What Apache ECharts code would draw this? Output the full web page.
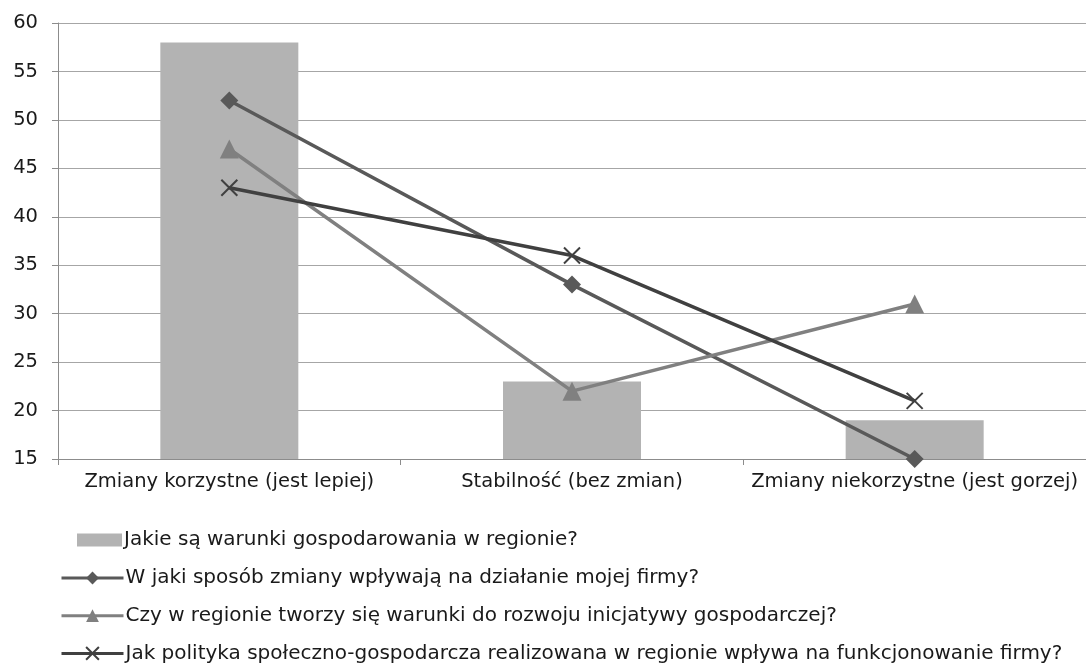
<!DOCTYPE html>
<html>
<head>
<meta charset="utf-8">
<script src="https://cdn.jsdelivr.net/npm/echarts@6/dist/echarts.min.js"></script>
<style>html,body{margin:0;padding:0;background:#fff}#c{width:1086px;height:672px}</style>
</head>
<body>
<div id="c"></div>
<script>
const categories = ['Zmiany korzystne (jest lepiej)', 'Stabilność (bez zmian)', 'Zmiany niekorzystne (jest gorzej)'];
const seriesNames = [
  'Jakie są warunki gospodarowania w regionie?',
  'W jaki sposób zmiany wpływają na działanie mojej firmy?',
  'Czy w regionie tworzy się warunki do rozwoju inicjatywy gospodarczej?',
  'Jak polityka społeczno-gospodarcza realizowana w regionie wpływa na funkcjonowanie firmy?'
];
const barValues = [58, 23, 19];
const diamondValues = [52, 33, 15];
const triangleValues = [47, 22, 31];
const crossValues = [43, 36, 21];

const font = '"DejaVu Sans", sans-serif';
const fsAxis = 19.5;
const fsLegend = 20;
const chart = echarts.init(document.getElementById('c'), null, {renderer: 'canvas'});
const crossPath = 'path://M0 0L10 10M10 0L0 10';
chart.setOption({
  animation: false,
  backgroundColor: '#ffffff',
  grid: {left: 58, right: -7, top: 23, bottom: 213, containLabel: false},
  xAxis: {
    type: 'category',
    data: categories,
    axisLine: {lineStyle: {color: '#8c8c8c', width: 1}},
    axisTick: {show: true, length: 6, lineStyle: {color: '#8c8c8c'}},
    axisLabel: {color: '#1a1a1a', fontSize: fsAxis, fontFamily: font, margin: 13, interval: 0}
  },
  yAxis: {
    type: 'value',
    min: 15, max: 60, interval: 5,
    axisLine: {show: true, lineStyle: {color: '#8c8c8c', width: 1}},
    axisTick: {show: true, length: 6, lineStyle: {color: '#8c8c8c'}},
    splitLine: {lineStyle: {color: '#a6a6a6', width: 1}},
    axisLabel: {color: '#1a1a1a', fontSize: fsAxis, fontFamily: font, margin: 20}
  },
  legend: [
    {
      data: [{name: seriesNames[0], icon: 'rect'}],
      orient: 'vertical', left: 77, top: 530, padding: 0,
      itemWidth: 45, itemHeight: 13, itemGap: 10,
      textStyle: {color: '#1a1a1a', fontSize: fsLegend, fontFamily: font, padding: [0, 0, 0, -3]}
    },
    {
      data: seriesNames.slice(1),
      orient: 'vertical', left: 60, top: 568, padding: 0,
      itemWidth: 62, itemHeight: 16, itemGap: 17.7,
      lineStyle: {width: 3},
      textStyle: {color: '#1a1a1a', fontSize: fsLegend, fontFamily: font, padding: [0, 0, 0, -3]}
    }
  ],
  series: [
    {
      name: seriesNames[0], type: 'bar', data: barValues,
      barWidth: 138,
      itemStyle: {color: '#b3b3b3'}
    },
    {
      name: seriesNames[1], type: 'line', data: diamondValues,
      symbol: 'diamond', symbolSize: 18,
      lineStyle: {color: '#595959', width: 3.5},
      itemStyle: {color: '#595959'}
    },
    {
      name: seriesNames[2], type: 'line', data: triangleValues,
      symbol: 'triangle', symbolSize: 19,
      lineStyle: {color: '#808080', width: 3.5},
      itemStyle: {color: '#808080'}
    },
    {
      name: seriesNames[3], type: 'line', data: crossValues,
      symbol: crossPath, symbolSize: 16,
      lineStyle: {color: '#404040', width: 3.5},
      itemStyle: {color: 'rgba(0,0,0,0)', borderColor: '#404040', borderWidth: 2}
    }
  ]
});
</script>
</body>
</html>
